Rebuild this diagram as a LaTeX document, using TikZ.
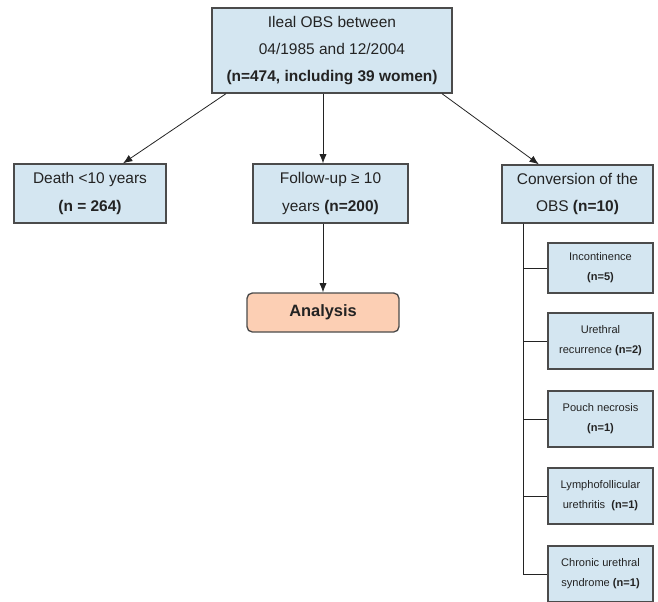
\documentclass[tikz,border=0pt]{standalone}
\usepackage{fontspec}
\setmainfont{Liberation Sans}
\usetikzlibrary{arrows.meta,positioning,calc}
\definecolor{BoxBlue}{RGB}{212,230,241}
\definecolor{BoxSalmon}{RGB}{252,207,180}
\definecolor{EdgeGray}{RGB}{75,75,75}
\definecolor{InkGray}{RGB}{35,35,35}

\begin{document}
\begin{tikzpicture}[x=0.75pt,y=-0.75pt,>={Latex[length=7pt,width=5.5pt]},
  bluebox/.style={draw=EdgeGray,line width=1pt,fill=BoxBlue,text=InkGray,
        inner sep=0pt,align=center,font=\fontsize{11.6}{20.5}\selectfont},
  subbox/.style={bluebox,minimum width=78.75pt,minimum height=42pt,
        font=\fontsize{8.3}{15}\selectfont},
  link/.style={->,line width=0.6pt,InkGray},
  trunk/.style={line width=0.7pt,InkGray}]
  \useasboundingbox (0,0) rectangle (658,601);
  % top level
  \node[bluebox,minimum width=180pt,minimum height=63.75pt] (obs) at (332,50.5)
        {Ileal OBS between\\04/1985 and 12/2004\\\textbf{(n=474, including 39 women)}};
  \node[bluebox,minimum width=114pt,minimum height=44.25pt] (death) at (90,193.5)
        {Death <10 years\\\textbf{(n = 264)}};
  \node[bluebox,minimum width=116.25pt,minimum height=44.25pt] (fu) at (330.5,193.5)
        {Follow-up ≥ 10\\years \textbf{(n=200)}};
  \node[bluebox,minimum width=113.25pt,minimum height=43.5pt] (conv) at (577.5,194)
        {Conversion of the\\OBS \textbf{(n=10)}};
  \node[bluebox,fill=BoxSalmon,rounded corners=4pt,minimum width=114pt,
        minimum height=29.25pt,font=\fontsize{12.3}{14}\selectfont\bfseries] (ana) at (323,312.5)
        {Analysis};
  % conversion causes
  \node[subbox,minimum height=37.5pt] (inc) at (600.5,268) {Incontinence\\\textbf{(n=5)}};
  \node[subbox] (ure) at (600.5,341) {Urethral\\recurrence \textbf{(n=2)}};
  \node[subbox] (pou) at (600.5,419) {Pouch necrosis\\\textbf{(n=1)}};
  \node[subbox] (lym) at (600.5,496) {Lymphofollicular\\urethritis~~\textbf{(n=1)}};
  \node[subbox] (chr) at (600.5,574) {Chronic urethral\\syndrome \textbf{(n=1)}};
  % arrows
  \draw[link] ([xshift=11pt]obs.south west) -- ([xshift=24.75pt]death.north);
  \draw[link] (obs.south -| ana.north) -- (fu.north -| ana.north);
  \draw[link] ([xshift=-8pt]obs.south east) -- ([xshift=-29pt]conv.north);
  \draw[link] (fu.south -| ana.north) -- (ana.north);
  % tree of conversion causes
  \foreach \s in {inc,ure,pou,lym,chr}
    \draw[trunk] ([xshift=16.5pt]conv.south west) |- (\s.west);
\end{tikzpicture}
\end{document}
